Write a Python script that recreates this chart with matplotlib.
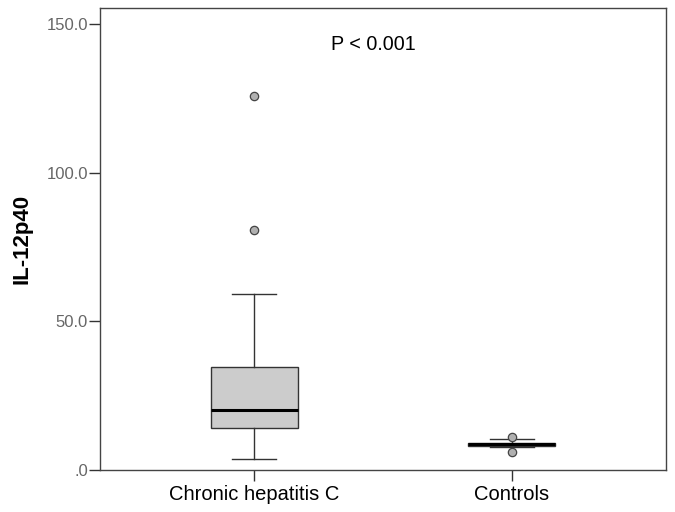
import matplotlib
matplotlib.use("Agg")
import matplotlib.pyplot as plt
from matplotlib.ticker import FuncFormatter

categories = ["Chronic hepatitis C", "Controls"]
q1 = [14.1, 8.2]
median = [20.3, 8.7]
q3 = [34.6, 9.1]
whislo = [3.7, 7.6]
whishi = [59.2, 10.6]
outliers = [[80.7, 125.8], [6.1, 11.2]]
p_text = "P < 0.001"

plt.rcParams['font.family'] = ['Liberation Sans', 'DejaVu Sans']
fig = plt.figure(figsize=(6.75, 5.12), dpi=100)
ax = fig.add_axes([0.148, 0.082, 0.839, 0.902])

stats = []
for i, c in enumerate(categories):
    stats.append(dict(label=c, q1=q1[i], med=median[i], q3=q3[i],
                      whislo=whislo[i], whishi=whishi[i], fliers=outliers[i]))

ax.bxp(stats, positions=[1, 2], widths=0.338, patch_artist=True,
       boxprops=dict(facecolor="#cccccc", edgecolor="#333333", linewidth=1.0),
       medianprops=dict(color="black", linewidth=2.2),
       whiskerprops=dict(color="#333333", linewidth=1.0),
       capprops=dict(color="#333333", linewidth=1.0),
       capwidths=0.17,
       flierprops=dict(marker="o", markerfacecolor="#b0b0b0", markeredgecolor="#444444",
                       markersize=6, markeredgewidth=0.9))

ax.set_xlim(0.4, 2.6)
ax.set_ylim(0, 155.4)
ax.set_yticks([0, 50, 100, 150])
ax.yaxis.set_major_formatter(FuncFormatter(lambda v, p: ".0" if v == 0 else f"{v:.1f}"))
ax.tick_params(axis="y", direction="out", length=8, width=1.0, colors="#333333", labelcolor="#666666", labelsize=12, pad=0.5)
ax.tick_params(axis="x", direction="out", length=8, width=1.0, colors="#333333", labelcolor="black", labelsize=14.5, pad=3)
for s in ax.spines.values():
    s.set_color("#444444")
    s.set_linewidth(1.0)
ax.set_ylabel("IL-12p40", fontsize=16, fontweight="bold")
ax.yaxis.set_label_coords(-0.119, 0.501)
ax.text(1.461, 143.3, p_text, fontsize=14.2, ha="center", va="center")

fig.savefig("out.png", dpi=100)
